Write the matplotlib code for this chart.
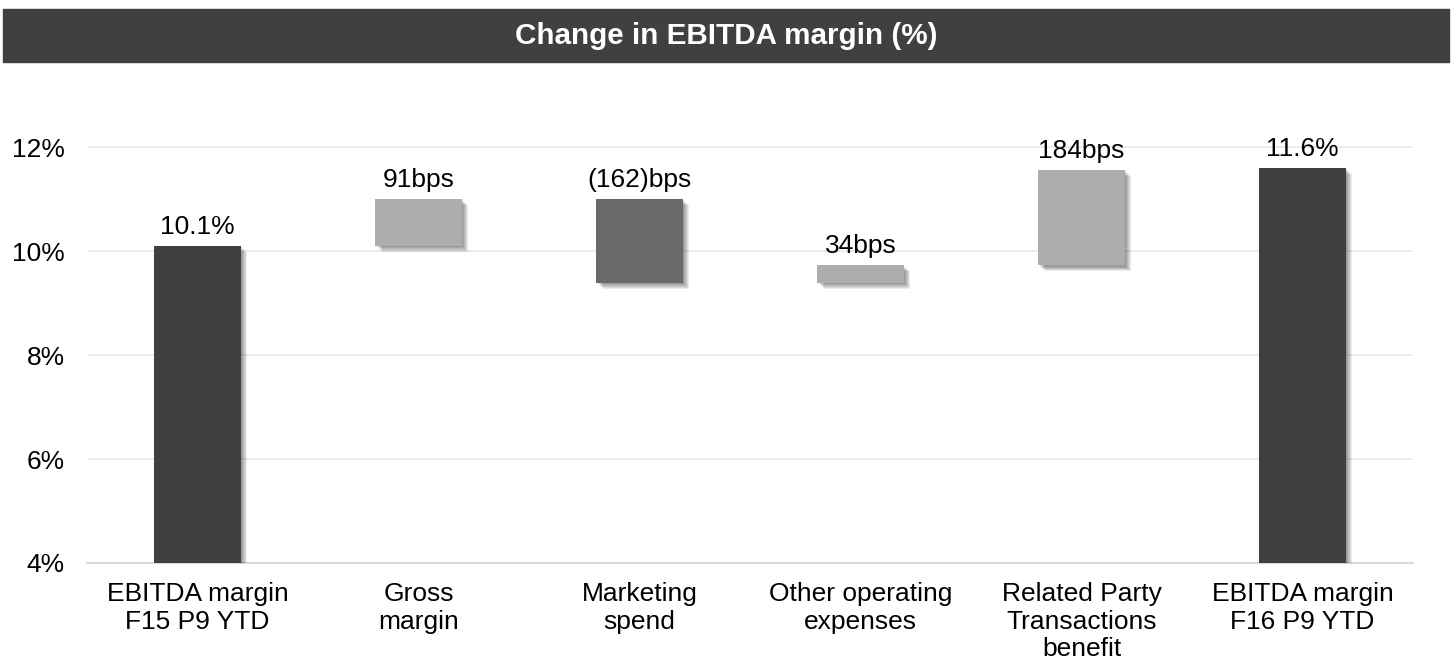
import numpy as np
import matplotlib.pyplot as plt
import matplotlib.patheffects as pe

plt.rcParams['font.family'] = ['Liberation Sans', 'DejaVu Sans']

categories = ['EBITDA margin\nF15 P9 YTD', 'Gross\nmargin', 'Marketing\nspend',
              'Other operating\nexpenses', 'Related Party\nTransactions\nbenefit',
              'EBITDA margin\nF16 P9 YTD']
bottoms = [0, 10.10, 9.39, 9.39, 9.73, 0]
tops = [10.10, 11.01, 11.01, 9.73, 11.57, 11.60]
labels = ['10.1%', '91bps', '(162)bps', '34bps', '184bps', '11.6%']
colors = ['#404040', '#ADADAD', '#696969', '#ADADAD', '#ADADAD', '#404040']

fig = plt.figure(figsize=(14.53, 6.66), dpi=100)
ax = fig.add_axes([87/1453, 103/666, 1326/1453, (563-103)/666])

x = np.arange(len(categories))
heights = [t - b for t, b in zip(tops, bottoms)]
bars = ax.bar(x, heights, bottom=bottoms, width=0.39, color=colors, zorder=3)
# soft drop shadow made of a few faint offset copies
shadow = [pe.SimplePatchShadow(offset=(d, -d), shadow_rgbFace='#000000', alpha=0.08)
          for d in (1, 1.7, 2.4, 3.1, 3.8, 4.5)]
for b in bars:
    b.set_path_effects(shadow + [pe.Normal()])

for xi, t, lab in zip(x, tops, labels):
    ax.annotate(lab, (xi, t), xytext=(0, 5), textcoords='offset points',
                ha='center', va='bottom', fontsize=19, color='black')

ax.set_xlim(-0.5, len(categories) - 0.5)
ax.set_ylim(4, 12.85)
ax.set_yticks([4, 6, 8, 10, 12])
ax.set_yticklabels(['4%', '6%', '8%', '10%', '12%'], fontsize=19)
ax.set_xticks(x)
ax.set_xticklabels(categories, fontsize=19, linespacing=1.17, va='top')
ax.tick_params(length=0)
ax.tick_params(axis='x', pad=14)
ax.tick_params(axis='y', pad=16)
ax.grid(axis='y', color='#EBEBEB', linewidth=1.3, zorder=0)
for s in ['top', 'right', 'left']:
    ax.spines[s].set_visible(False)
ax.spines['bottom'].set_color('#D9D9D9')
ax.spines['bottom'].set_linewidth(1.5)

# title band
fig.patches.append(plt.Rectangle((3/1453, 1 - 62/666), 1446/1453, 53/666,
                                 transform=fig.transFigure, color='#404040', zorder=0))
fig.text(0.5, 1 - 36/666, 'Change in EBITDA margin (%)', ha='center', va='center',
         fontsize=21.3, fontweight='bold', color='white')

fig.savefig('out.png', dpi=100)
